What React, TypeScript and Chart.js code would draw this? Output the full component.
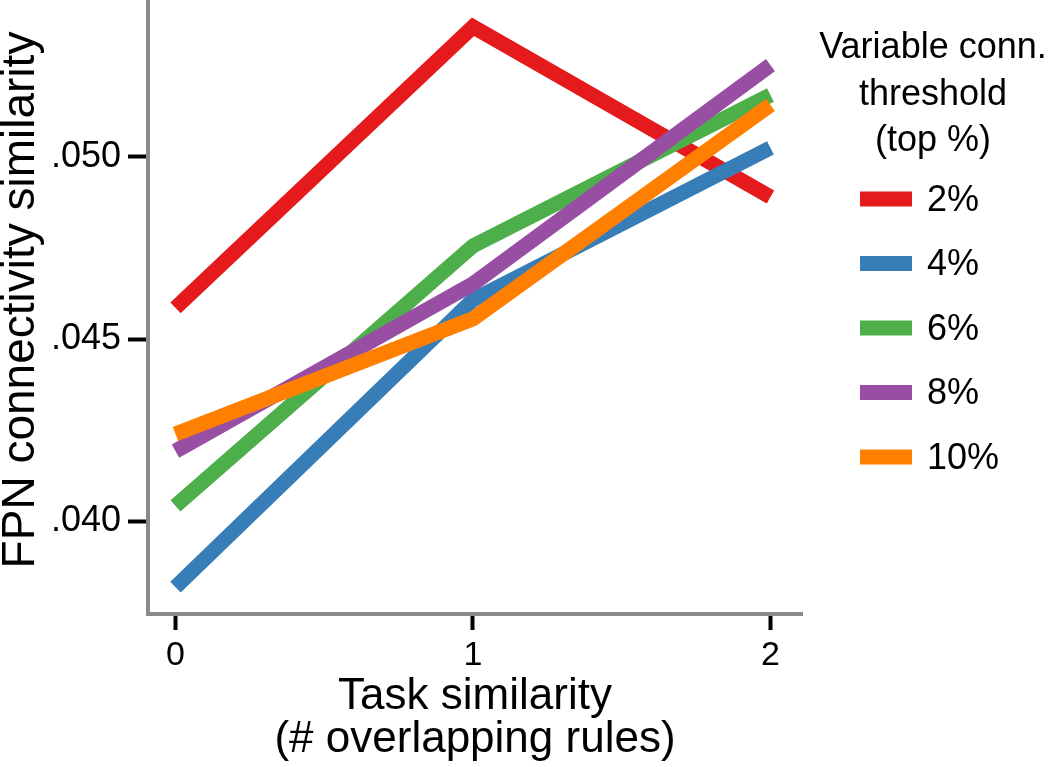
import React, { useEffect, useRef } from 'react';
import { Chart, registerables } from 'chart.js';

Chart.register(...registerables);

// ---- data ----
const categories = [0, 1, 2];
const xTickLabels = ['0', '1', '2'];
const yTickValues = [0.04, 0.045, 0.05];
const yTickLabels = ['.040', '.045', '.050'];
const seriesNames = ['2%', '4%', '6%', '8%', '10%'];
const s2 = [0.04586, 0.05357, 0.0489];
const s4 = [0.0382, 0.04608, 0.05025];
const s6 = [0.04043, 0.04756, 0.0517];
const s8 = [0.04193, 0.04652, 0.05252];
const s10 = [0.0424, 0.04556, 0.05143];
const seriesValues = [s2, s4, s6, s8, s10];
const colors = ['#E41A1C', '#377EB8', '#4DAF4A', '#984EA3', '#FF7F00'];
const legendTitle = ['Variable conn.', 'threshold', '(top %)'];
const xTitle = ['Task similarity', '(# overlapping rules)'];
const yTitle = 'FPN connectivity similarity';

const FONT = '"Liberation Sans", Arial, Helvetica, sans-serif';

const overlayPlugin = {
  id: 'overlay',
  afterDraw(chart: any) {
    const ctx = chart.ctx as CanvasRenderingContext2D;
    ctx.save();
    ctx.fillStyle = '#000';
    // y title
    ctx.save();
    ctx.font = `46px ${FONT}`;
    ctx.textAlign = 'center';
    ctx.textBaseline = 'alphabetic';
    ctx.translate(34, 300);
    ctx.rotate(-Math.PI / 2);
    ctx.fillText(yTitle, 0, 0);
    ctx.restore();

    // legend title
    ctx.font = `36px ${FONT}`;
    ctx.textAlign = 'center';
    ctx.textBaseline = 'alphabetic';
    const titleBase = [58, 105, 151];
    legendTitle.forEach((t, i) => ctx.fillText(t, 933, titleBase[i]));

    // legend items
    const ds = chart.data.datasets;
    ctx.font = `36px ${FONT}`;
    ctx.textAlign = 'left';
    ctx.textBaseline = 'middle';
    ds.forEach((d: any, i: number) => {
      const cy = 199 + i * 64.5;
      ctx.fillStyle = d.borderColor;
      ctx.fillRect(860, cy - 7.5, 52, 15);
      ctx.fillStyle = '#000';
      ctx.fillText(d.label, 927, cy + 2);
    });
    ctx.restore();
  },
};

export default function App() {
  const ref = useRef<HTMLCanvasElement>(null);
  useEffect(() => {
    if (!ref.current) return;
    const datasets = seriesValues.map((vals, i) => ({
      label: seriesNames[i],
      data: categories.map((x, j) => ({ x, y: vals[j] })),
      borderColor: colors[i],
      backgroundColor: colors[i],
      borderWidth: 15,
      borderCapStyle: 'butt' as const,
      borderJoinStyle: 'miter' as const,
      pointRadius: 0,
      tension: 0,
      fill: false,
      order: seriesValues.length - i,
    }));
    const chart = new Chart(ref.current, {
      type: 'line',
      data: { datasets },
      plugins: [overlayPlugin],
      options: {
        animation: false,
        responsive: true,
        maintainAspectRatio: false,
        devicePixelRatio: 1,
        layout: { padding: { left: 0, right: 248, top: 0, bottom: 0 } },
        plugins: {
          legend: { display: false },
          tooltip: { enabled: false },
        },
        scales: {
          x: {
            type: 'linear',
            min: -0.0924,
            max: 2.106,
            afterBuildTicks: (s: any) => {
              s.ticks = categories.map((v) => ({ value: v }));
            },
            afterFit: (s: any) => {
              s.height = 153;
              s.paddingLeft = 0;
              s.paddingRight = 0;
            },
            ticks: {
              autoSkip: false,
              maxRotation: 0,
              padding: 7,
              color: '#000',
              font: { family: FONT, size: 34, lineHeight: 1.1 },
              callback: (_v: any, idx: number) => xTickLabels[idx],
            },
            grid: {
              display: true,
              drawOnChartArea: false,
              drawTicks: true,
              tickLength: 16,
              tickWidth: 4,
              tickColor: '#000',
            },
            border: { display: true, color: '#8a8a8a', width: 4 },
            title: {
              display: true,
              text: xTitle,
              color: '#000',
              font: { family: FONT, size: 44, lineHeight: 43 / 44 },
              padding: { top: 0, bottom: 5.5 },
            },
          },
          y: {
            type: 'linear',
            min: 0.037462,
            max: 0.054307,
            afterBuildTicks: (s: any) => {
              s.ticks = yTickValues.map((v) => ({ value: v }));
            },
            afterFit: (s: any) => {
              s.width = 148;
              s.paddingTop = 0;
              s.paddingBottom = 0;
            },
            ticks: {
              autoSkip: false,
              padding: 7,
              color: '#000',
              font: { family: FONT, size: 36 },
              callback: (_v: any, idx: number) => yTickLabels[idx],
            },
            grid: {
              display: true,
              drawOnChartArea: false,
              drawTicks: true,
              tickLength: 20,
              tickWidth: 4,
              tickColor: '#000',
            },
            border: { display: true, color: '#8a8a8a', width: 4 },
            title: { display: false },
          },
        },
      },
    });
    return () => chart.destroy();
  }, []);
  return (
    <div style={{ position: 'absolute', left: 0, top: 0, width: 1050, height: 767, background: '#fff' }}>
      <canvas ref={ref} />
    </div>
  );
}
